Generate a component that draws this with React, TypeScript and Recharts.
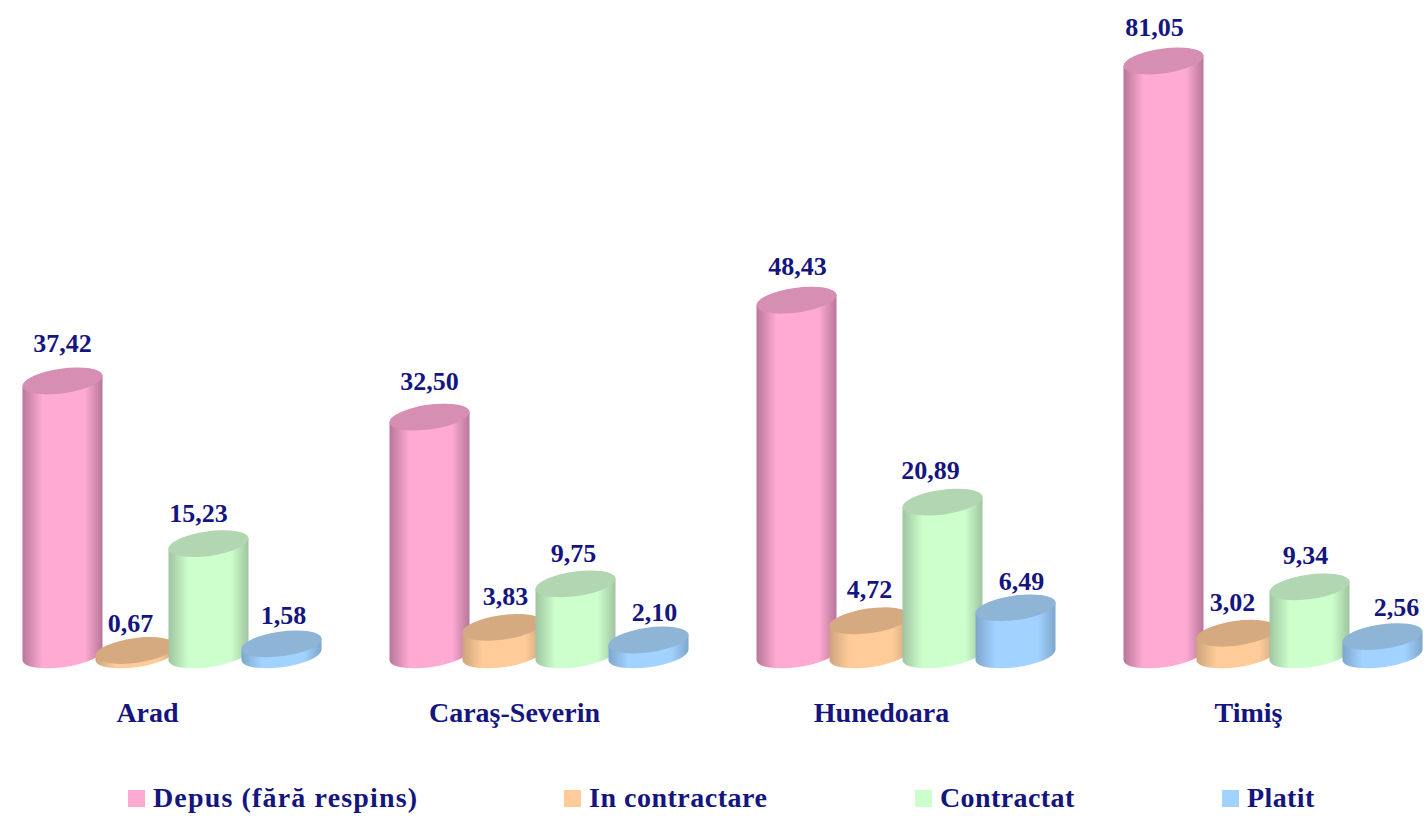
import { Bar, BarChart, LabelList, Legend, XAxis, YAxis } from "recharts";

const COUNTIES = ["Arad", "Caraş-Severin", "Hunedoara", "Timiş"];
const DEPUS = [37.42, 32.5, 48.43, 81.05];
const IN_CONTRACTARE = [0.67, 3.83, 4.72, 3.02];
const CONTRACTAT = [15.23, 9.75, 20.89, 9.34];
const PLATIT = [1.58, 2.1, 6.49, 2.56];

const NAVY = "#15157f";
const FONT = '"Liberation Serif", serif';

const SERIES = [
  { key: "depus", name: "Depus (fără respins)", base: "#ffaad2", edge: "#b8769a", top: "#d68fb2", nudge: [[0, -37], [0, -36], [1, -34], [-9, -33]] },
  { key: "contractare", name: "In contractare", base: "#ffcc99", edge: "#cda47c", top: "#d6aa80", nudge: [[-5, -27], [3, -31], [0, -31], [-4, -31]] },
  { key: "contractat", name: "Contractat", base: "#ccffcc", edge: "#a0c4a0", top: "#b2d6b2", nudge: [[-10, -30], [-2, -30], [-12, -32], [-4, -31]] },
  { key: "platit", name: "Platit", base: "#a2d2ff", edge: "#7ea6cc", top: "#8fb5d6", nudge: [[2, -28], [6, -28], [6, -26], [14, -29]] },
];

const LEGEND_X = [128, 564, 915, 1222];
const LEGEND_SPACING = [1.15, 0.5, 0.4, 0.4];

const data = COUNTIES.map((county, i) => ({
  county,
  depus: DEPUS[i],
  contractare: IN_CONTRACTARE[i],
  contractat: CONTRACTAT[i],
  platit: PLATIT[i],
}));

function Cylinder(props: any) {
  const { x, y, width, height, gradient, top } = props;
  const cx = x + width / 2;
  const base = y + height;
  const arc = "A40.4 12.3 -8 0 0";
  const body = `M${cx - 40} ${y + 5.4} L${cx - 40} ${base + 5.4} ${arc} ${cx + 40} ${base - 5.4} L${cx + 40} ${y - 5.4} ${arc} ${cx - 40} ${y + 5.4}Z`;
  return (
    <g>
      <path d={body} fill={`url(#${gradient})`} />
      <ellipse cx={cx} cy={y} rx={40.4} ry={12.3} fill={top} transform={`rotate(-8 ${cx} ${y})`} />
    </g>
  );
}

function CountyTick({ x, y, payload }: any) {
  return (
    <text x={x - 24} y={y + 59} textAnchor="middle" fontFamily={FONT} fontWeight="bold" fontSize={28} fill={NAVY}>
      {payload.value}
    </text>
  );
}

function LegendRow() {
  return (
    <div style={{ position: "relative", height: 40 }}>
      {SERIES.map((s, i) => (
        <div key={s.key} style={{ position: "absolute", left: LEGEND_X[i], top: 8, display: "flex", alignItems: "center", whiteSpace: "nowrap" }}>
          <span style={{ width: 17, height: 17, background: s.base, marginRight: 8 }} />
          <span style={{ fontFamily: FONT, fontWeight: "bold", fontSize: 28, letterSpacing: LEGEND_SPACING[i], color: NAVY, lineHeight: "30px" }}>{s.name}</span>
        </div>
      ))}
    </div>
  );
}

export default function App() {
  return (
    <div style={{ position: "absolute", left: 0, top: 0, width: 1426, height: 816, overflow: "hidden", background: "#fff" }}>
      <div style={{ position: "absolute", left: -12.5, top: 0 }}>
        <BarChart
          width={1468}
          height={816}
          data={data}
          barSize={73}
          barGap={0}
          margin={{ top: 10, right: 0, bottom: 60, left: 0 }}
        >
          <defs>
            {SERIES.map((s) => (
              <linearGradient key={s.key} id={`grad-${s.key}`} x1="0" y1="0" x2="1" y2="0">
                <stop offset="0" stopColor={s.edge} />
                <stop offset="0.25" stopColor={s.base} />
                <stop offset="0.78" stopColor={s.base} />
                <stop offset="1" stopColor={s.edge} />
              </linearGradient>
            ))}
          </defs>
          <XAxis dataKey="county" height={60} axisLine={false} tickLine={false} tick={<CountyTick />} interval={0} />
          <YAxis hide domain={[0, 88]} />
          <Legend verticalAlign="bottom" height={40.6} wrapperStyle={{ left: 12.5, width: 1426, bottom: 0 }} content={<LegendRow />} />
          {SERIES.map((s) => (
            <Bar
              key={s.key}
              dataKey={s.key}
              name={s.name}
              fill={s.base}
              isAnimationActive={false}
              shape={(p: any) => <Cylinder {...p} gradient={`grad-${s.key}`} top={s.top} />}
            >
              <LabelList
                dataKey={s.key}
                content={(p: any) => {
                  const [dx, dy] = s.nudge[p.index];
                  return (
                    <text
                      x={p.x + p.width / 2 + dx}
                      y={p.y + dy}
                      textAnchor="middle"
                      dominantBaseline="central"
                      fontFamily={FONT}
                      fontWeight="bold"
                      fontSize={26}
                      fill={NAVY}
                    >
                      {Number(p.value).toFixed(2).replace(".", ",")}
                    </text>
                  );
                }}
              />
            </Bar>
          ))}
        </BarChart>
      </div>
    </div>
  );
}
